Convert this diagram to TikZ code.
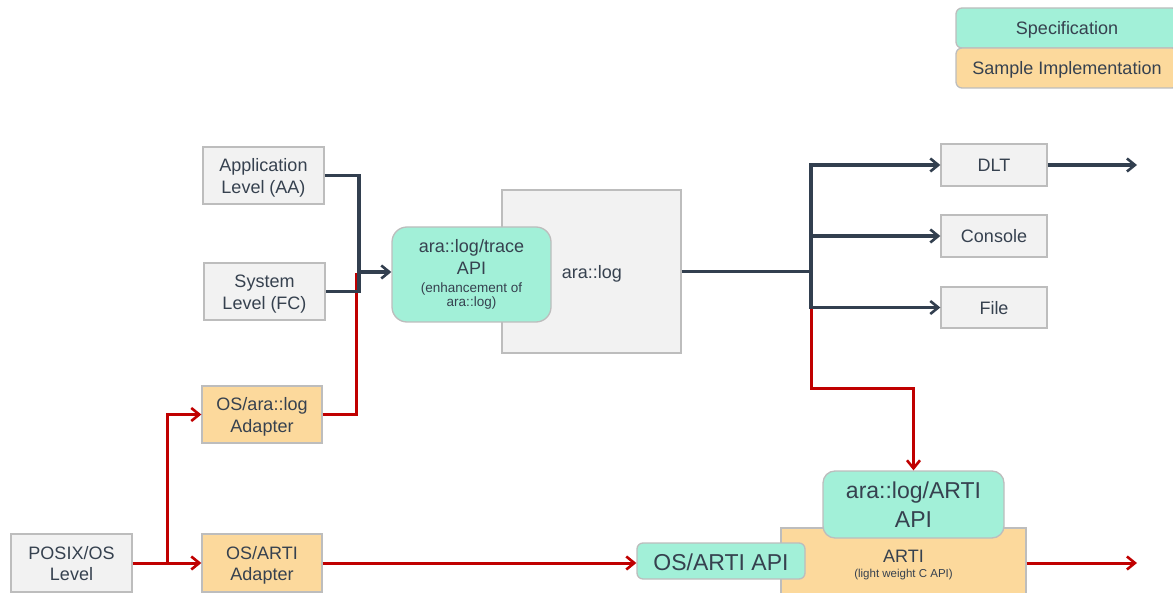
\documentclass[tikz,border=0pt]{standalone}
\usepackage{fontspec}
\setmainfont{Liberation Sans}
\usetikzlibrary{arrows.meta}
\definecolor{txt}{HTML}{36414F}
\definecolor{dk}{HTML}{323F4F}
\definecolor{rd}{HTML}{C00000}
\definecolor{spec}{HTML}{A2F0D8}
\definecolor{impl}{HTML}{FCD99C}
\definecolor{grayfill}{HTML}{F2F2F2}
\definecolor{bord}{HTML}{BDBDBD}
\renewcommand{\arraystretch}{0.5}
\newcommand{\rs}{\rule[-3.5pt]{0pt}{21pt}}
\newcommand{\twolines}[2]{\begin{tabular}{@{}c@{}}\rs #1\\\rs #2\end{tabular}}
\tikzset{
  box/.style={draw=bord, line width=1.3pt, fill=grayfill, inner sep=0pt, text=txt,
    font=\fontsize{18}{21}\selectfont},
  specbox/.style={box, fill=spec, rounded corners=#1},
  specbox/.default=14pt,
  implbox/.style={box, fill=impl},
  dkline/.style={draw=dk, line width=3.2pt, -{Straight Barb[length=8pt,width=13pt,line width=2.6pt]}},
  dkplain/.style={draw=dk, line width=3.2pt},
  rdline/.style={draw=rd, line width=3pt, -{Straight Barb[length=8pt,width=13pt,line width=2.6pt]}},
  rdplain/.style={draw=rd, line width=3pt},
}
\begin{document}
\begin{tikzpicture}[x=1pt,y=-1pt]
\useasboundingbox (0,0) rectangle (1173,593);
% legend
\node[specbox=6pt, minimum width=222pt, minimum height=40pt] (legspec) at (1067,28) {\rs Specification};
\node[implbox, rounded corners=6pt, minimum width=222pt, minimum height=40pt] (legimpl) at (1067,68) {\rs Sample Implementation};
% left sources
\node[box, minimum width=121pt, minimum height=57pt] (app) at (263.5,175.5) {\twolines{Application}{Level (AA)}};
\node[box, minimum width=121pt, minimum height=57pt] (sys) at (264.5,291.5) {\twolines{System}{Level (FC)}};
\node[implbox, minimum width=120pt, minimum height=57pt] (adlog) at (262,414.5) {\twolines{OS/ara::log}{Adapter}};
\node[box, minimum width=121pt, minimum height=58pt] (posix) at (71.5,563) {\twolines{POSIX/OS}{Level}};
\node[implbox, minimum width=120pt, minimum height=58pt] (adarti) at (262,563) {\twolines{OS/ARTI}{Adapter}};
% ara::log
\node[box, minimum width=179pt, minimum height=163pt, text width=165pt, align=right] (aralog) at (591.5,271.5) {\rs ara::log\hspace*{52pt}};
\node[specbox=15pt, minimum width=159pt, minimum height=95pt] (trace) at (471.5,274.5)
  {\begin{tabular}{@{}c@{}}\rule[-5pt]{0pt}{20pt}ara::log/trace\\\rule[-6pt]{0pt}{23pt}API\\
   \fontsize{13.5}{15}\selectfont\rule[-4pt]{0pt}{16pt}(enhancement of\\
   \fontsize{13.5}{15}\selectfont\rule[-4pt]{0pt}{14pt}ara::log)\end{tabular}};
% outputs
\node[box, minimum width=106pt, minimum height=42pt] (dlt) at (994,165) {\rs DLT};
\node[box, minimum width=106pt, minimum height=42pt] (console) at (994,236) {\rs Console};
\node[box, minimum width=106pt, minimum height=41pt] (file) at (994,307.5) {\rs File};
% ARTI
\node[implbox, minimum width=245pt, minimum height=70pt] (arti) at (903.5,563) {};
\node[text=txt, font=\fontsize{18}{21}\selectfont, anchor=base, inner sep=0pt] (artititle) at (903.5,562) {ARTI};
\node[text=txt, font=\fontsize{11.5}{13}\selectfont, anchor=base, inner sep=0pt] (artisub) at (903.5,577) {(light weight C API)};
\node[specbox=12pt, minimum width=181pt, minimum height=67pt, font=\fontsize{23}{27}\selectfont] (araarti) at (913.5,504.5)
  {\begin{tabular}{@{}c@{}}\rule[-7pt]{0pt}{29pt}ara::log/ARTI\\\rule[-4.5pt]{0pt}{26.5pt}API\end{tabular}};
\node[specbox=6pt, minimum width=168pt, minimum height=36pt, font=\fontsize{23}{27}\selectfont] (osartiapi) at (721,561) {\rule[-3pt]{0pt}{24pt}OS/ARTI API};
% coordinates
\coordinate (jin) at (359,272);
\coordinate (jred) at (356,273);
\coordinate (jout) at (811,271.5);
\coordinate (jp) at (167,563);
\coordinate (dltout) at (1137,165);
\coordinate (artiout) at (1137,563);
% red connectors
\draw[rdline] (posix.east) -- (adarti.west);
\draw[rdline] (jp) |- (adlog.west);
\draw[rdplain] (adlog.east) -| (jred);
\draw[rdline] (adarti.east) -- (adarti.east -| osartiapi.west);
\draw[rdline] (jout |- file.west) -- (811,389) -| (araarti.north);
\draw[rdline] (arti.east) -- (artiout);
% dark connectors
\draw[dkplain] (app.east) -| (jin |- sys.east) -- (sys.east);
\draw[dkline] (jin) -- (jin -| trace.west);
\draw[dkplain] (aralog.east) -- (jout);
\draw[dkline] (jout) |- (dlt.west);
\draw[dkline] (jout) |- (console.west);
\draw[dkline] (jout) |- (file.west);
\draw[dkline] (dlt.east) -- (dltout);
\end{tikzpicture}
\end{document}
